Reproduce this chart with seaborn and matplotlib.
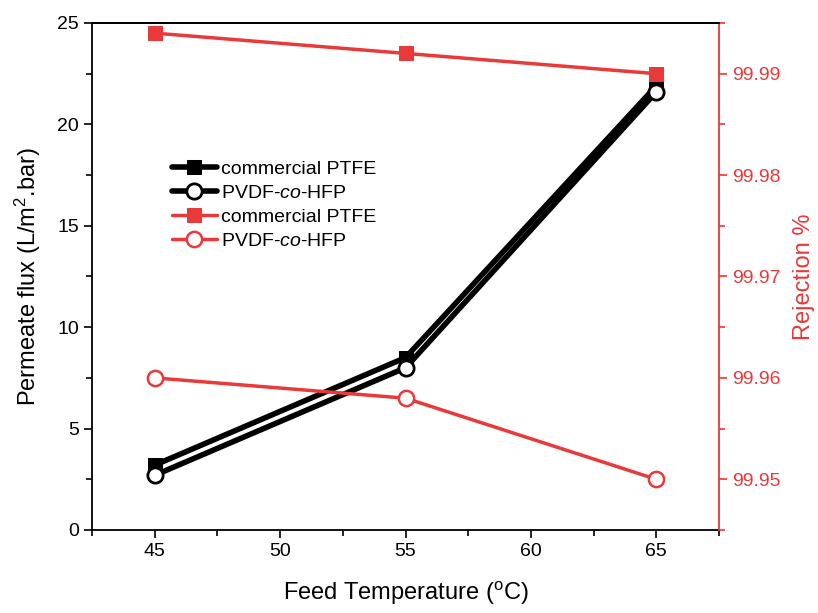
import numpy as np
import pandas as pd
import matplotlib.pyplot as plt
import seaborn as sns
from matplotlib.ticker import MultipleLocator

temperature = [45, 55, 65]
flux_ptfe = [3.2, 8.5, 21.9]
flux_pvdf = [2.7, 8.0, 21.6]
rej_ptfe = [99.994, 99.992, 99.990]
rej_pvdf = [99.960, 99.958, 99.950]

sns.set_style("ticks")
plt.rcParams['font.family'] = ['Liberation Sans', 'DejaVu Sans']
plt.rcParams['mathtext.fontset'] = 'custom'
plt.rcParams['mathtext.it'] = 'Liberation Sans:italic'
plt.rcParams['mathtext.rm'] = 'Liberation Sans'
plt.rcParams['text.color'] = 'black'
plt.rcParams['axes.labelcolor'] = 'black'
plt.rcParams['xtick.color'] = 'black'
plt.rcParams['ytick.color'] = 'black'

red = '#e8393b'

fig = plt.figure(figsize=(8.18, 6.13), dpi=100)
ax = fig.add_axes([0.1125, 0.1354, 0.7665, 0.8271])
ax2 = ax.twinx()

sns.lineplot(x=temperature, y=flux_ptfe, ax=ax, color='black', lw=4, marker='s',
             markersize=10, markeredgecolor='black', label='commercial PTFE', legend=False)
sns.lineplot(x=temperature, y=flux_pvdf, ax=ax, color='black', lw=4, marker='o',
             markersize=11, markerfacecolor='white', markeredgecolor='black',
             markeredgewidth=2, label='PVDF-$\\it{co}$-HFP', legend=False)
sns.lineplot(x=temperature, y=rej_ptfe, ax=ax2, color=red, lw=2.5, marker='s',
             markersize=10, markeredgecolor=red, label='commercial PTFE', legend=False)
sns.lineplot(x=temperature, y=rej_pvdf, ax=ax2, color=red, lw=2.5, marker='o',
             markersize=11, markerfacecolor='white', markeredgecolor=red,
             markeredgewidth=1.8, label='PVDF-$\\it{co}$-HFP', legend=False)

ax.set_xlim(42.5, 67.5)
ax.set_ylim(0, 25)
ax2.set_ylim(99.945, 99.995)

ax.xaxis.set_major_locator(MultipleLocator(5))
ax.xaxis.set_minor_locator(MultipleLocator(2.5))
ax.yaxis.set_major_locator(MultipleLocator(5))
ax.yaxis.set_minor_locator(MultipleLocator(2.5))
ax2.yaxis.set_major_locator(MultipleLocator(0.01))
ax2.yaxis.set_minor_locator(MultipleLocator(0.005))
ax2.yaxis.set_major_formatter(plt.FormatStrFormatter('%.2f'))

ax.tick_params(axis='both', which='major', direction='out', length=6, width=1.2,
               labelsize=14, color='black', labelcolor='black')
ax.tick_params(axis='both', which='minor', direction='out', length=4, width=1.2)
ax2.tick_params(axis='y', which='major', direction='out', length=6, width=1.2,
                labelsize=14, colors=red)
ax2.tick_params(axis='y', which='minor', direction='out', length=4, width=1.2, colors=red)

for s in ['left', 'bottom', 'top']:
    ax.spines[s].set_linewidth(1.3)
    ax.spines[s].set_color('black')
ax2.spines['right'].set_color(red)
ax2.spines['right'].set_linewidth(1.3)
ax2.spines['left'].set_visible(False)
ax2.spines['top'].set_linewidth(1.3)
ax2.spines['top'].set_color('black')
ax2.spines['bottom'].set_visible(False)
ax.spines['right'].set_visible(False)

ax.set_xlabel('Feed Temperature ($\\mathregular{^oC}$)', fontsize=17, labelpad=14)
ax.set_ylabel('Permeate flux (L/m$\\mathregular{^2}$.bar)', fontsize=17, labelpad=10)
ax2.set_ylabel('Rejection %', fontsize=17, color=red, labelpad=9)

h1, l1 = ax.get_legend_handles_labels()
h2, l2 = ax2.get_legend_handles_labels()
ax.legend(h1 + h2, l1 + l2, loc='upper left', bbox_to_anchor=(0.115, 0.745),
          frameon=False, fontsize=14, handlelength=2.3, handletextpad=0.2,
          labelspacing=0.33, borderaxespad=0)

fig.savefig('out.png', dpi=100)
